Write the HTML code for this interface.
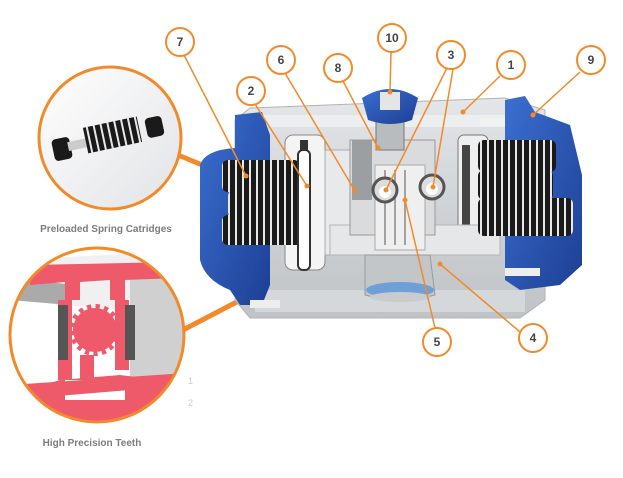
<!DOCTYPE html>
<html><head><meta charset="utf-8"><style>
html,body{margin:0;padding:0;background:#fff;width:623px;height:478px;overflow:hidden}
svg{display:block}
text{font-family:"Liberation Sans",sans-serif}
</style></head><body>
<svg width="623" height="478" viewBox="0 0 623 478" xmlns="http://www.w3.org/2000/svg">
<defs>
<linearGradient id="body" x1="0" y1="0" x2="0" y2="1">
<stop offset="0" stop-color="#e4e6e8"/><stop offset="0.5" stop-color="#cfd3d6"/><stop offset="1" stop-color="#bfc3c6"/>
</linearGradient>
<linearGradient id="blue" x1="0" y1="0" x2="1" y2="1">
<stop offset="0" stop-color="#3b6fd0"/><stop offset="1" stop-color="#1d3f94"/>
</linearGradient>
<linearGradient id="ins" x1="0" y1="0" x2="1" y2="1">
<stop offset="0" stop-color="#ffffff"/><stop offset="1" stop-color="#e2e3e6"/>
</linearGradient>
<pattern id="spr" width="7" height="10" patternUnits="userSpaceOnUse">
<rect width="7" height="10" fill="#1a1a1a"/><rect x="4" width="2" height="10" fill="#e8e8e8"/>
</pattern>
<clipPath id="c1"><circle cx="110" cy="138" r="71"/></clipPath>
<clipPath id="c2"><circle cx="97" cy="335" r="87"/></clipPath>
</defs>

<!-- thick orange connectors -->
<line x1="178" y1="155" x2="246" y2="183" stroke="#f28a2a" stroke-width="5"/>
<line x1="183" y1="330" x2="398" y2="218" stroke="#f28a2a" stroke-width="5"/>

<!-- main body -->
<path d="M250 108 L505 98 L545 110 L545 300 L520 318 L250 318 L235 300 L235 120 Z" fill="url(#body)" stroke="#b0b4b8"/>
<rect x="262" y="115" width="250" height="12" fill="#eceeef"/>
<rect x="255" y="290" width="270" height="22" fill="#d5d8db"/>
<!-- left piston -->
<rect x="285" y="135" width="40" height="135" rx="8" fill="#f4f4f4" stroke="#888"/>
<rect x="300" y="140" width="8" height="125" fill="#333"/>
<rect x="325" y="150" width="35" height="105" fill="#e8e9ea" stroke="#aaa"/>
<!-- right piston -->
<rect x="458" y="135" width="30" height="105" rx="6" fill="#efefef" stroke="#777"/>
<rect x="462" y="145" width="8" height="85" fill="#444"/>
<!-- rack -->
<rect x="330" y="225" width="170" height="30" fill="#e6e7e8" stroke="#b5b5b5"/>
<!-- center block -->
<rect x="350" y="140" width="85" height="95" fill="#d9dbdc" stroke="#999"/>
<rect x="352" y="140" width="20" height="60" fill="#9b9fa2"/>
<rect x="375" y="165" width="50" height="85" fill="#efefef" stroke="#aaa"/>
<g stroke="#888" stroke-width="1.5"><line x1="385" y1="170" x2="385" y2="245"/><line x1="395" y1="170" x2="395" y2="245"/><line x1="405" y1="170" x2="405" y2="245"/></g>
<!-- bolts -->
<circle cx="385" cy="190" r="12" fill="#ddd" stroke="#555" stroke-width="3"/><circle cx="385" cy="192" r="6" fill="#fff"/>
<circle cx="432" cy="187" r="12" fill="#ddd" stroke="#555" stroke-width="3"/><circle cx="432" cy="189" r="6" fill="#fff"/>
<!-- top shaft -->
<rect x="376" y="110" width="28" height="40" fill="#b9bcbf" stroke="#777"/>
<path d="M362 98 Q390 80 418 98 L412 120 Q390 128 368 120 Z" fill="url(#blue)"/>
<rect x="380" y="92" width="20" height="18" fill="#e5e5e5"/>
<!-- bottom pinion -->
<path d="M365 255 L430 255 L435 295 Q400 305 365 295 Z" fill="#c3c6c9" stroke="#999"/>
<ellipse cx="400" cy="290" rx="34" ry="8" fill="#6f9fd8"/>
<ellipse cx="400" cy="297" rx="30" ry="5" fill="#c9cbcd"/>
<!-- left cap -->
<path d="M200 165 Q205 150 235 148 L235 115 L262 112 L270 135 L270 285 L262 305 L240 305 L230 290 Q205 280 200 260 Z" fill="url(#blue)"/>
<rect x="222" y="160" width="78" height="32" rx="6" fill="url(#spr)"/>
<rect x="228" y="190" width="72" height="28" rx="6" fill="url(#spr)"/>
<rect x="222" y="215" width="80" height="30" rx="6" fill="url(#spr)"/>
<rect x="298" y="150" width="12" height="120" rx="5" fill="#fff" stroke="#333" stroke-width="2"/>
<rect x="250" y="300" width="30" height="8" fill="#eee"/>
<!-- right cap -->
<path d="M505 100 L525 96 L535 112 L570 125 L582 175 L582 265 L560 285 L520 290 L505 280 Z" fill="url(#blue)"/>
<rect x="478" y="140" width="78" height="32" rx="6" fill="url(#spr)"/>
<rect x="478" y="170" width="75" height="30" rx="6" fill="url(#spr)"/>
<rect x="478" y="198" width="95" height="38" rx="6" fill="url(#spr)"/>
<rect x="505" y="268" width="35" height="8" fill="#eee"/>
<rect x="480" y="118" width="25" height="8" fill="#f2f2f2"/>

<!-- thin leaders -->
<g stroke="#f28a2a" stroke-width="1.5" fill="none">
<line x1="184" y1="55" x2="246" y2="176"/>
<line x1="255" y1="104" x2="307" y2="186"/>
<line x1="285" y1="73" x2="355" y2="191"/>
<line x1="343" y1="81" x2="378" y2="148"/>
<line x1="391" y1="52" x2="390" y2="92"/>
<line x1="447" y1="68" x2="386" y2="190"/>
<line x1="453" y1="69" x2="433" y2="187"/>
<line x1="500" y1="76" x2="463" y2="112"/>
<line x1="580" y1="72" x2="533" y2="115"/>
<line x1="435" y1="328" x2="405" y2="200"/>
<line x1="520" y1="332" x2="440" y2="264"/>
</g>
<g fill="#f28a2a"><circle cx="246" cy="176" r="2.5"/><circle cx="307" cy="186" r="2.5"/><circle cx="355" cy="191" r="2.5"/><circle cx="378" cy="148" r="2.5"/><circle cx="390" cy="92" r="2.5"/><circle cx="386" cy="190" r="2.5"/><circle cx="433" cy="187" r="2.5"/><circle cx="463" cy="112" r="2.5"/><circle cx="533" cy="115" r="2.5"/><circle cx="405" cy="200" r="2.5"/><circle cx="440" cy="264" r="2.5"/></g>

<!-- number circles -->
<g fill="#fff" stroke="#f28a2a" stroke-width="2">
<circle cx="180" cy="42" r="14"/><circle cx="281" cy="60" r="14"/><circle cx="251" cy="91" r="14"/>
<circle cx="338" cy="68" r="14"/><circle cx="392" cy="38" r="14"/><circle cx="451" cy="55" r="14"/>
<circle cx="511" cy="65" r="14"/><circle cx="591" cy="60" r="14"/><circle cx="437" cy="342" r="14"/>
<circle cx="533" cy="338" r="14"/>
</g>
<g font-size="12" font-weight="bold" fill="#444" text-anchor="middle">
<text x="180" y="46">7</text><text x="281" y="64">6</text><text x="251" y="95">2</text>
<text x="338" y="72">8</text><text x="392" y="42">10</text><text x="451" y="59">3</text>
<text x="511" y="69">1</text><text x="591" y="64">9</text><text x="437" y="346">5</text>
<text x="533" y="342">4</text>
</g>

<!-- inset 1 -->
<circle cx="110" cy="138" r="71" fill="url(#ins)"/>
<g clip-path="url(#c1)">
<rect x="53" y="138" width="18" height="22" rx="4" fill="#1a1a1a" transform="rotate(-12 62 149)"/>
<rect x="68" y="140" width="20" height="9" fill="#ccc" transform="rotate(-12 78 145)"/>
<rect x="85" y="122" width="55" height="26" fill="url(#spr)" transform="rotate(-12 112 135)"/>
<rect x="146" y="117" width="17" height="20" rx="4" fill="#1a1a1a" transform="rotate(-12 154 127)"/>
</g>
<circle cx="110" cy="138" r="71" fill="none" stroke="#f28a2a" stroke-width="3"/>
<text x="106" y="232" font-size="10" font-weight="bold" fill="#7d7d7d" text-anchor="middle">Preloaded Spring Catridges</text>

<!-- inset 2 -->
<circle cx="97" cy="335" r="87" fill="#fff"/>
<g clip-path="url(#c2)">
<path d="M10 260 L200 250 L200 300 L160 290 Q130 290 120 310 L10 300 Z" fill="#f0f0f0"/>
<path d="M130 270 L200 290 L200 400 L130 380 Z" fill="#d0d0d0"/>
<path d="M10 275 L70 285 L70 305 L10 300 Z" fill="#aaa"/>
<g fill="#ef5a6a">
<path d="M30 265 L180 262 L180 278 L125 280 L125 300 L110 300 L110 280 L80 282 L80 300 L65 300 L65 282 L30 285 Z"/>
<rect x="58" y="300" width="14" height="80"/>
<rect x="115" y="300" width="14" height="70"/>
<path d="M10 395 L60 380 L120 375 L200 385 L200 430 L10 430 Z"/>
<rect x="80" y="355" width="14" height="30"/>
</g>
<rect x="65" y="380" width="60" height="20" fill="#fff"/>
<path d="M10 385 L200 372 L200 384 L10 400 Z" fill="#ef5a6a"/>
<circle cx="95" cy="330" r="22" fill="#ef5a6a" stroke="#ef5a6a" stroke-width="8" stroke-dasharray="4 4"/>
<rect x="58" y="305" width="10" height="55" fill="#555"/>
<rect x="125" y="305" width="10" height="55" fill="#555"/>
</g>
<circle cx="97" cy="335" r="87" fill="none" stroke="#f28a2a" stroke-width="3"/>
<text x="92" y="446" font-size="10" font-weight="bold" fill="#7d7d7d" text-anchor="middle">High Precision Teeth</text>
<text x="188" y="384" font-size="9" fill="#ccc">1</text>
<text x="188" y="406" font-size="9" fill="#ccc">2</text>
</svg>
</body></html>
